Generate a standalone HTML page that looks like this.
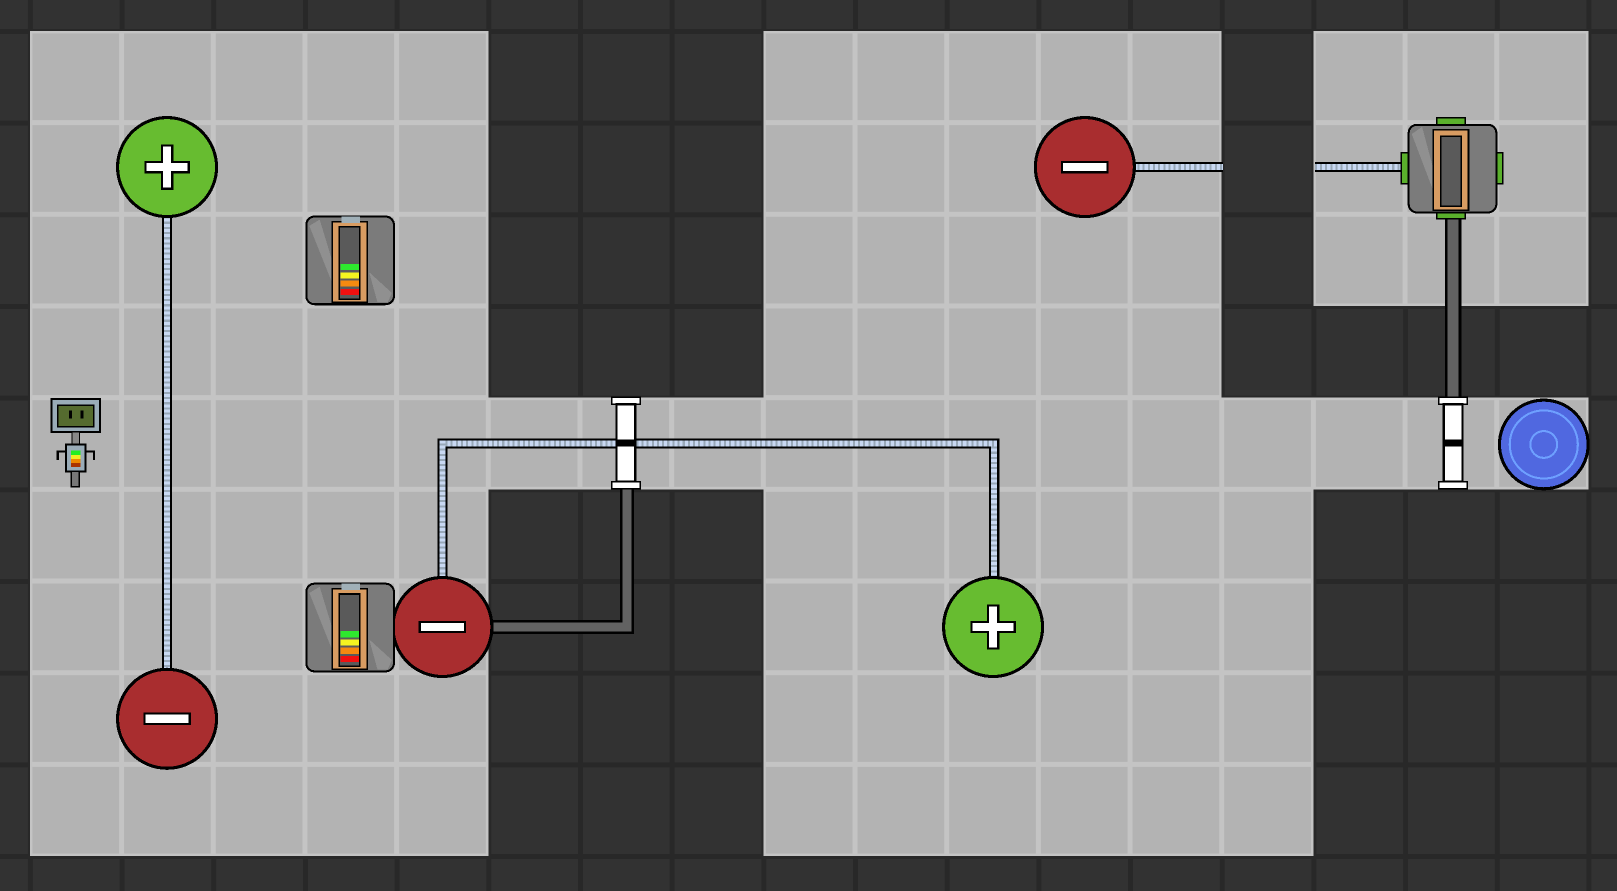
<!DOCTYPE html>
<html><head><meta charset="utf-8"><style>
html,body{margin:0;padding:0;background:#333;}
svg{display:block;}
</style></head><body>
<svg width="1617" height="891" viewBox="0 0 1568 864" xmlns="http://www.w3.org/2000/svg" shape-rendering="crispEdges">
<defs>
<pattern id="dk" x="29" y="30" width="88.9" height="88.9" patternUnits="userSpaceOnUse">
<rect width="88.9" height="88.9" fill="#323232"/>
<rect x="0" y="0" width="3" height="88.9" fill="#282828"/><rect x="86.9" y="0" width="2" height="88.9" fill="#282828"/>
<rect x="0" y="0" width="88.9" height="3" fill="#282828"/><rect x="0" y="86.9" width="88.9" height="2" fill="#282828"/>
</pattern>
<pattern id="lt" x="29" y="30" width="88.9" height="88.9" patternUnits="userSpaceOnUse">
<rect width="88.9" height="88.9" fill="#b3b3b3"/>
<rect x="0" y="0" width="2.5" height="88.9" fill="#c4c4c4"/><rect x="86.4" y="0" width="2.5" height="88.9" fill="#c4c4c4"/>
<rect x="0" y="0" width="88.9" height="2.5" fill="#c4c4c4"/><rect x="0" y="86.4" width="88.9" height="2.5" fill="#c4c4c4"/>
</pattern>
<g id="bat">
<rect x="1" y="1" width="85" height="85" rx="8" fill="#7b7b7b" stroke="#000" stroke-width="2"/>
<polygon points="4,10 14,4 28,50 28,70" fill="#909090"/>
<polygon points="62,55 84,75 80,84 70,84" fill="#909090"/>
<rect x="26" y="6" width="34" height="78" fill="#d89c62" stroke="#000" stroke-width="1.5"/>
<rect x="35" y="1" width="18" height="6" fill="#a0b0b8"/>
<rect x="33" y="11" width="20" height="70" fill="#5a5a5a" stroke="#000" stroke-width="1.5"/>
</g>
<g id="minus">
<circle r="48" fill="#a92d2f" stroke="#000" stroke-width="3"/>
<rect x="-22" y="-5" width="44" height="10" fill="#fff" stroke="#000" stroke-width="2"/>
</g>
<g id="plus">
<circle r="48" fill="#67bc30" stroke="#000" stroke-width="3"/>
<path d="M-5,-21 H5 V-5 H21 V5 H5 V21 H-5 V5 H-21 V-5 H-5 Z" fill="#fff" stroke="#000" stroke-width="2"/>
</g>
<g id="door">
<rect x="-14" y="0" width="28" height="7" fill="#fff" stroke="#000" stroke-width="1.5"/>
<rect x="-9" y="7" width="18" height="75" fill="#fff" stroke="#000" stroke-width="2"/>
<rect x="-9" y="41" width="18" height="7" fill="#000"/>
<rect x="-14" y="82" width="28" height="7" fill="#fff" stroke="#000" stroke-width="1.5"/>
</g>
</defs>
<rect width="1568" height="864" fill="url(#dk)"/>
<g fill="url(#lt)">
<rect x="29" y="30" width="444.5" height="800.1"/>
<rect x="473.5" y="385.6" width="266.7" height="88.9"/>
<rect x="740.2" y="30" width="444.5" height="800.1"/>
<rect x="1184.7" y="385.6" width="88.9" height="444.5"/>
<rect x="1273.6" y="30" width="266.7" height="266.7"/>
<rect x="1273.6" y="385.6" width="266.7" height="88.9"/>
</g>
<g fill="none" stroke-linejoin="miter">
<path d="M474,608 H608 V470" stroke="#000" stroke-width="14"/>
<path d="M474,608 H608 V470" stroke="#626262" stroke-width="9"/>
<path d="M1409,208 V388" stroke="#000" stroke-width="16"/>
<path d="M1409,208 V388" stroke="#626262" stroke-width="11"/>
</g>
<g fill="none">
<path d="M162,210 V650 M429,562 V430 H964 V562 M1098,162 H1186 M1275,162 H1362" stroke="#000" stroke-width="10"/>
<path d="M162,210 V650 M429,562 V430 H964 V562 M1098,162 H1186 M1275,162 H1362" stroke="#c8d8f2" stroke-width="6"/>
<path d="M162,210 V650 M429,562 V430 H964 V562 M1098,162 H1186 M1275,162 H1362" stroke="#98a8b8" stroke-width="6" stroke-dasharray="2,3"/>
</g>
<use href="#plus" x="162" y="162"/>
<use href="#minus" x="162" y="697"/>
<use href="#minus" x="429" y="608"/>
<use href="#plus" x="963" y="608"/>
<use href="#minus" x="1052" y="162"/>
<g transform="translate(296,209)"><use href="#bat"/>
<rect x="34" y="47" width="18" height="6" fill="#2ee82e"/><rect x="34" y="55" width="18" height="6" fill="#f5f520"/><rect x="34" y="63" width="18" height="6" fill="#f58a10"/><rect x="34" y="71" width="18" height="6" fill="#f01010"/></g>
<g transform="translate(296,565)"><use href="#bat"/>
<rect x="34" y="47" width="18" height="6" fill="#2ee82e"/><rect x="34" y="55" width="18" height="6" fill="#f5f520"/><rect x="34" y="63" width="18" height="6" fill="#f58a10"/><rect x="34" y="71" width="18" height="6" fill="#f01010"/></g>
<g transform="translate(1365,118)">
<rect x="-6" y="30" width="8" height="30" fill="#5ab02c" stroke="#000" stroke-width="1.5"/>
<rect x="84" y="30" width="8" height="30" fill="#5ab02c" stroke="#000" stroke-width="1.5"/>
<rect x="28" y="-4" width="28" height="8" fill="#5ab02c" stroke="#000" stroke-width="1.5"/>
<rect x="28" y="86" width="28" height="8" fill="#5ab02c" stroke="#000" stroke-width="1.5"/>
<rect x="1" y="3" width="85" height="85" rx="8" fill="#7b7b7b" stroke="#000" stroke-width="2"/>
<polygon points="4,12 14,5 26,50 26,70" fill="#909090"/>
<rect x="25" y="8" width="34" height="78" fill="#d89c62" stroke="#000" stroke-width="1.5"/>
<rect x="32" y="14" width="20" height="68" fill="#5a5a5a" stroke="#000" stroke-width="1.5"/>
</g>
<use href="#door" x="607" y="385"/>
<use href="#door" x="1409" y="385"/>
<g transform="translate(1497,431)">
<circle r="43" fill="#5068e0" stroke="#000" stroke-width="3"/>
<circle r="33" fill="none" stroke="#6ea0ff" stroke-width="2"/>
<circle r="13" fill="none" stroke="#6ea0ff" stroke-width="2"/>
</g>
<g>
<rect x="50" y="387" width="47" height="32" fill="#9aacb8" stroke="#000" stroke-width="2"/>
<rect x="56" y="393" width="35" height="21" fill="#556b2f" stroke="#000" stroke-width="1.5"/>
<rect x="67" y="398" width="3" height="8" fill="#000"/><rect x="78" y="398" width="3" height="8" fill="#000"/>
<rect x="70" y="419" width="7" height="12" fill="#888" stroke="#000" stroke-width="1"/>
<rect x="64" y="431" width="19" height="26" fill="#9aacb8" stroke="#000" stroke-width="2"/>
<rect x="69" y="437" width="9" height="4" fill="#2e2"/><rect x="69" y="441" width="9" height="4" fill="#ee2"/><rect x="69" y="445" width="9" height="4" fill="#e80"/><rect x="69" y="449" width="9" height="4" fill="#a30"/>
<path d="M64,438 H56 V446 M83,438 H91 V446" fill="none" stroke="#000" stroke-width="2"/>
<rect x="69" y="457" width="8" height="15" fill="#777" stroke="#000" stroke-width="1.5"/>
</g>
</svg>
</body></html>
